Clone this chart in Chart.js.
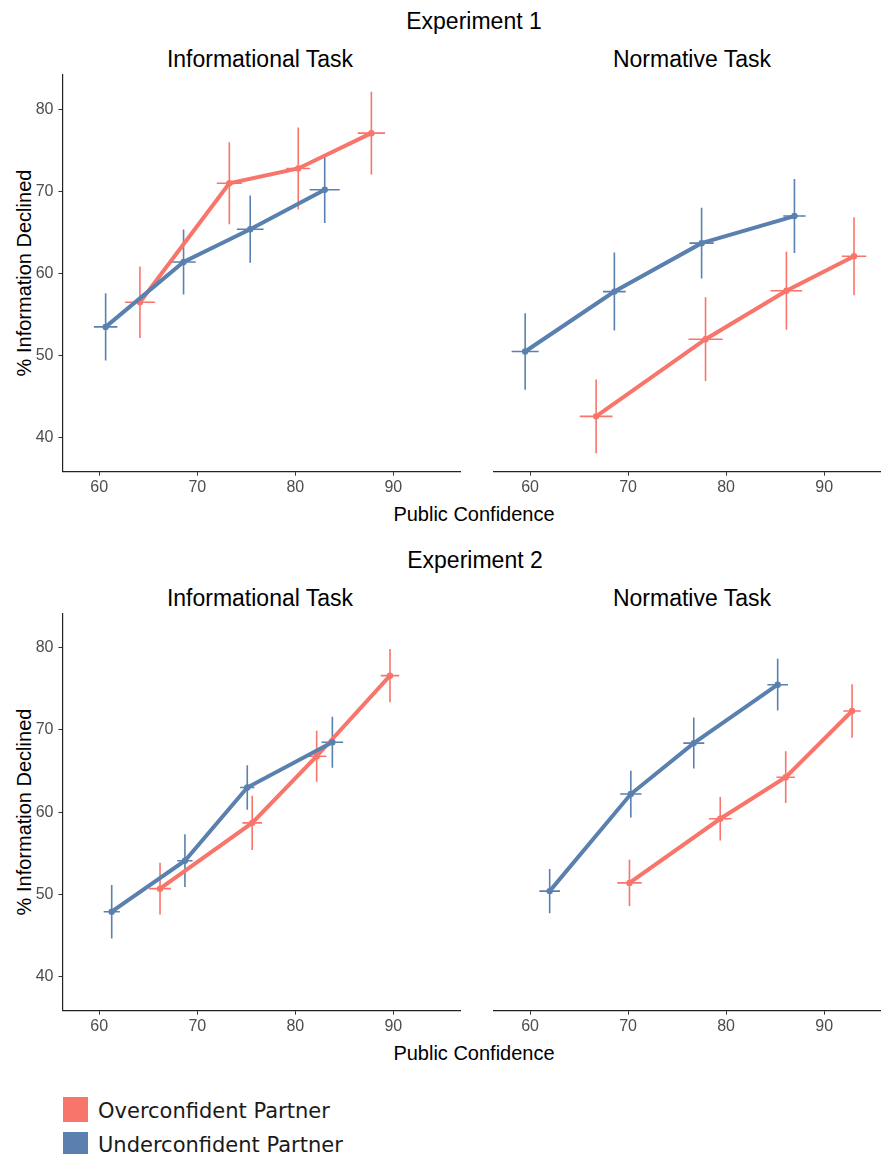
<!DOCTYPE html>
<html>
<head>
<meta charset="utf-8">
<script src="https://cdn.jsdelivr.net/npm/chart.js@4/dist/chart.umd.min.js"></script>
<style>
  html, body { margin: 0; overflow: hidden; background: #fff; }
  body { width: 881px; height: 1154px; position: relative; font-family: "Liberation Sans", Arial, sans-serif; }
  canvas { position: absolute; }
  .t { position: absolute; transform: translate(-50%, -50%); line-height: 1; white-space: nowrap; color: #000; }
  .main { font-size: 23px; }
  .facet { font-size: 23px; }
  .axis { font-size: 20px; }
  .yt { position: absolute; transform: translate(-50%, -50%) rotate(-90deg); line-height: 1; white-space: nowrap; font-size: 20px; color: #000; }
  .sw { position: absolute; left: 63px; width: 25px; height: 25px; }
  .lg { position: absolute; left: 98px; transform: translateY(-50%); line-height: 1; font-family: "DejaVu Sans", Verdana, sans-serif; font-size: 21px; color: #1a1a1a; white-space: nowrap; }
</style>
</head>
<body>

<div class="t main" style="left:474px; top:21px;">Experiment 1</div>
<div class="t facet" style="left:260px; top:59px;">Informational Task</div>
<div class="t facet" style="left:692px; top:59px;">Normative Task</div>
<div class="yt" style="left:23.5px; top:273px;">% Information Declined</div>
<div class="t axis" style="left:474px; top:514px;">Public Confidence</div>

<div class="t main" style="left:475px; top:560px;">Experiment 2</div>
<div class="t facet" style="left:260px; top:597.5px;">Informational Task</div>
<div class="t facet" style="left:692px; top:597.5px;">Normative Task</div>
<div class="yt" style="left:23.5px; top:812px;">% Information Declined</div>
<div class="t axis" style="left:474px; top:1053px;">Public Confidence</div>

<canvas id="e1info" width="480" height="450" style="left:0px; top:55px;"></canvas>
<canvas id="e1norm" width="440" height="450" style="left:475px; top:55px;"></canvas>
<canvas id="e2info" width="480" height="450" style="left:0px; top:593px;"></canvas>
<canvas id="e2norm" width="440" height="450" style="left:475px; top:593px;"></canvas>

<div class="sw" id="sw0" style="top:1097px;"></div>
<div class="lg" id="lg0" style="top:1111px;"></div>
<div class="sw" id="sw1" style="top:1131.5px;"></div>
<div class="lg" id="lg1" style="top:1145px;"></div>

<script>
// axis ticks
const xTicks = [60, 70, 80, 90];
const yTicks = [40, 50, 60, 70, 80];
const seriesNames = ['Overconfident Partner', 'Underconfident Partner'];
const seriesColors = ['#F8756B', '#5A80AF'];

// Experiment 1 - Informational Task
const e1InfoOverX = [64.15, 73.27, 80.3, 87.76];
const e1InfoOverY = [56.5, 71.0, 72.8, 77.1];
const e1InfoOverXErr = [1.53, 1.28, 1.22, 1.39];
const e1InfoOverYErr = [4.35, 5.0, 5.0, 5.05];
const e1InfoUnderX = [60.65, 68.6, 75.4, 83.0];
const e1InfoUnderY = [53.5, 61.4, 65.4, 70.2];
const e1InfoUnderXErr = [1.2, 1.24, 1.36, 1.53];
const e1InfoUnderYErr = [4.1, 3.95, 4.1, 4.05];

// Experiment 1 - Normative Task
const e1NormOverX = [66.74, 77.9, 86.15, 93.05];
const e1NormOverY = [42.6, 52.0, 57.9, 62.1];
const e1NormOverXErr = [1.67, 1.74, 1.62, 1.25];
const e1NormOverYErr = [4.5, 5.1, 4.75, 4.75];
const e1NormUnderX = [59.5, 68.6, 77.5, 86.97];
const e1NormUnderY = [50.5, 57.8, 63.7, 67.0];
const e1NormUnderXErr = [1.38, 1.16, 1.24, 1.14];
const e1NormUnderYErr = [4.65, 4.75, 4.3, 4.5];

// Experiment 2 - Informational Task
const e2InfoOverX = [66.2, 75.6, 82.18, 89.66];
const e2InfoOverY = [50.7, 58.7, 66.8, 76.6];
const e2InfoOverXErr = [1.12, 1.0, 0.99, 0.94];
const e2InfoOverYErr = [3.15, 3.3, 3.1, 3.25];
const e2InfoUnderX = [61.27, 68.74, 75.1, 83.78];
const e2InfoUnderY = [47.9, 54.1, 63.0, 68.5];
const e2InfoUnderXErr = [0.82, 0.78, 0.73, 1.1];
const e2InfoUnderYErr = [3.25, 3.2, 2.7, 3.1];

// Experiment 2 - Normative Task
const e2NormOverX = [70.14, 79.4, 86.08, 92.85];
const e2NormOverY = [51.4, 59.2, 64.25, 72.3];
const e2NormOverXErr = [1.24, 1.16, 0.94, 0.89];
const e2NormOverYErr = [2.8, 2.65, 3.15, 3.25];
const e2NormUnderX = [62.0, 70.28, 76.7, 85.26];
const e2NormUnderY = [50.4, 62.2, 68.4, 75.5];
const e2NormUnderXErr = [1.05, 1.09, 1.07, 1.05];
const e2NormUnderYErr = [2.7, 2.85, 3.1, 3.15];

// shared facet ranges
const xMin = 56.25, xMax = 96.8;
const yMin = 35.86, yMax = 84.18;

// crosses for the error bars, drawn under the lines
const errorBars = {
  id: 'errorBars',
  beforeDatasetsDraw(chart) {
    const ctx = chart.ctx;
    const xs = chart.scales.x, ys = chart.scales.y;
    chart.data.datasets.forEach(ds => {
      ctx.save();
      ctx.strokeStyle = ds.borderColor;
      ctx.lineWidth = 1.6;
      ds.data.forEach((p, i) => {
        const px = xs.getPixelForValue(p.x);
        const py = ys.getPixelForValue(p.y);
        ctx.beginPath();
        ctx.moveTo(px, ys.getPixelForValue(p.y - ds.yErr[i]));
        ctx.lineTo(px, ys.getPixelForValue(p.y + ds.yErr[i]));
        ctx.moveTo(xs.getPixelForValue(p.x - ds.xErr[i]), py);
        ctx.lineTo(xs.getPixelForValue(p.x + ds.xErr[i]), py);
        ctx.stroke();
      });
      ctx.restore();
    });
  }
};

const tickFont = { family: 'Liberation Sans', size: 16 };

function panel(id, over, under, showY, pad, xHeight) {
  const datasets = [over, under].map((s, k) => ({
    label: seriesNames[k],
    data: s.x.map((v, i) => ({ x: v, y: s.y[i] })),
    xErr: s.xErr,
    yErr: s.yErr,
    borderColor: seriesColors[k],
    backgroundColor: seriesColors[k],
    borderWidth: 4,
    pointRadius: 3.2,
    pointBorderWidth: 0,
    pointHoverRadius: 3.2,
    tension: 0,
    order: 1 - k // underconfident drawn on top
  }));

  new Chart(document.getElementById(id), {
    type: 'line',
    data: { datasets: datasets },
    options: {
      responsive: false,
      animation: false,
      events: [],
      layout: { padding: pad },
      plugins: { legend: { display: false }, tooltip: { enabled: false } },
      scales: {
        x: {
          type: 'linear',
          min: xMin,
          max: xMax,
          afterBuildTicks: s => { s.ticks = xTicks.map(v => ({ value: v })); },
          afterFit: s => { s.height = xHeight; },
          ticks: { color: '#4D4D4D', font: tickFont, padding: 2, maxRotation: 0 },
          grid: { drawOnChartArea: false, tickLength: 4, color: '#333' },
          border: { color: '#222', width: 1.2 }
        },
        y: {
          type: 'linear',
          display: showY,
          min: yMin,
          max: yMax,
          afterBuildTicks: s => { s.ticks = yTicks.map(v => ({ value: v })); },
          afterFit: s => { s.width = showY ? 62.5 : 0; },
          ticks: { color: '#4D4D4D', font: tickFont, padding: 5 },
          grid: { drawOnChartArea: false, tickLength: 4, color: '#333' },
          border: { color: '#222', width: 1.2 }
        }
      }
    },
    plugins: [errorBars]
  });
}

panel('e1info',
  { x: e1InfoOverX, y: e1InfoOverY, xErr: e1InfoOverXErr, yErr: e1InfoOverYErr },
  { x: e1InfoUnderX, y: e1InfoUnderY, xErr: e1InfoUnderXErr, yErr: e1InfoUnderYErr },
  true, { top: 20, right: 20, left: 0, bottom: 0 }, 33.3);

panel('e1norm',
  { x: e1NormOverX, y: e1NormOverY, xErr: e1NormOverXErr, yErr: e1NormOverYErr },
  { x: e1NormUnderX, y: e1NormUnderY, xErr: e1NormUnderXErr, yErr: e1NormUnderYErr },
  false, { top: 20, right: 24.2, left: 18.3, bottom: 0 }, 33.3);

panel('e2info',
  { x: e2InfoOverX, y: e2InfoOverY, xErr: e2InfoOverXErr, yErr: e2InfoOverYErr },
  { x: e2InfoUnderX, y: e2InfoUnderY, xErr: e2InfoUnderXErr, yErr: e2InfoUnderYErr },
  true, { top: 20.3, right: 20, left: 0, bottom: 0 }, 32.3);

panel('e2norm',
  { x: e2NormOverX, y: e2NormOverY, xErr: e2NormOverXErr, yErr: e2NormOverYErr },
  { x: e2NormUnderX, y: e2NormUnderY, xErr: e2NormUnderXErr, yErr: e2NormUnderYErr },
  false, { top: 20.3, right: 24.2, left: 18.3, bottom: 0 }, 32.3);

// legend
seriesNames.forEach((name, k) => {
  document.getElementById('sw' + k).style.background = seriesColors[k];
  document.getElementById('lg' + k).textContent = name;
});
</script>
</body>
</html>
